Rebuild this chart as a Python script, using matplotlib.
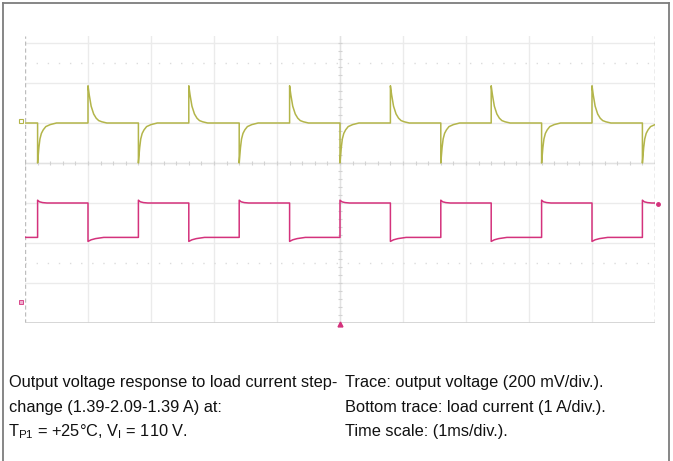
import matplotlib
matplotlib.use("Agg")
import numpy as np
import matplotlib.pyplot as plt
from matplotlib.lines import Line2D

plt.rcParams['font.family'] = ['Liberation Sans', 'DejaVu Sans']
plt.rcParams['mathtext.fontset'] = 'custom'
plt.rcParams['mathtext.rm'] = 'Liberation Sans'

# scope screen: 10 div wide (1 ms/div), 8 div high, top of the screen is cropped
t_start, t_end = 0.0, 10.0
y_top = 7.175

# load current step edges (ms)
rise_times = [0.2, 1.8, 3.4, 5.0, 6.6, 8.2, 9.8]
fall_times = [1.0, 2.6, 4.2, 5.8, 7.4, 9.0]

# output voltage trace (div): baseline and transient shapes
v_base = 5.0
dip_dt = [0.0, 0.02, 0.037, 0.06, 0.09, 0.13, 0.20, 0.30]
dip_dv = [-1.0, -0.62, -0.40, -0.26, -0.17, -0.09, -0.04, 0.0]
peak_dt = [0.0, 0.02, 0.05, 0.09, 0.13, 0.17, 0.22, 0.30]
peak_dv = [0.93, 0.70, 0.42, 0.225, 0.12, 0.06, 0.03, 0.0]

# load current trace (div)
i_low = 2.14
i_high = 3.0
rise_dt = [0.0, 0.03, 0.08, 0.15]
rise_lvl = [3.07, 3.03, 3.01, 3.0]
fall_dt = [0.0, 0.05, 0.12, 0.25]
fall_lvl = [2.04, 2.08, 2.11, 2.14]

caption_left = ['Output voltage response to load current step-',
                'change (1.39-2.09-1.39 A) at:',
                r'T$_{\mathregular{P1}}$ = +25°C, V$_{\mathregular{I}}$ = 110 V.']
caption_right = ['Trace: output voltage (200 mV/div.).',
                 'Bottom trace: load current (1 A/div.).',
                 'Time scale: (1ms/div.).']

yellow = '#b3b54a'
magenta = '#d4327c'

# build the two traces from the edges and shapes
events = sorted([(t, 'rise') for t in rise_times] + [(t, 'fall') for t in fall_times])
vt, vy = [t_start], [v_base]
it, iy = [t_start], [i_low]
for t, kind in events:
    vt.append(t)
    vy.append(v_base)
    if kind == 'rise':
        it.append(t)
        iy.append(i_low)
        for dt, dv in zip(dip_dt, dip_dv):
            vt.append(t + dt)
            vy.append(v_base + dv)
        for dt, lv in zip(rise_dt, rise_lvl):
            it.append(t + dt)
            iy.append(lv)
    else:
        it.append(t)
        iy.append(i_high)
        for dt, dv in zip(peak_dt, peak_dv):
            vt.append(t + dt)
            vy.append(v_base + dv)
        for dt, lv in zip(fall_dt, fall_lvl):
            it.append(t + dt)
            iy.append(lv)
vt.append(t_end + 0.5)
vy.append(v_base)
it.append(t_end)
iy.append(i_high)

fig = plt.figure(figsize=(6.73, 4.61), dpi=100)
ax = fig.add_axes([25 / 673, 1 - 323 / 461, 630 / 673, 287 / 461])
ax.set_xlim(t_start, t_end)
ax.set_ylim(0, y_top)
ax.set_axis_off()

# graticule
grid_c = '#ebebeb'
for x in range(1, 10):
    ax.axvline(x, color=grid_c, lw=1.0, zorder=1)
for y in range(1, 8):
    ax.axhline(y, color=grid_c, lw=1.0, zorder=1)
for y in (1.5, 6.5):
    ax.axhline(y, color='#dcdcdc', lw=1.0, ls=(0, (1, 7)), zorder=1)
ax.axvline(0, color='#bdbdbd', lw=1.0, ls=(0, (3, 2)), zorder=2)
ax.axvline(10, color='#a0a0a0', lw=1.0, ls=(0, (3, 2)), zorder=2)
ax.axhline(0, color='#d0d0d0', lw=1.2, zorder=2)
# centre axes with minor ticks
ax.axvline(5, color='#e2e2e2', lw=1.0, zorder=1)
ax.axhline(4, color='#e2e2e2', lw=1.0, zorder=1)
ax.vlines(np.arange(0, 10.01, 0.2), 4 - 0.05, 4 + 0.05, color='#d2d2d2', lw=0.8, zorder=1)
ax.hlines(np.arange(0, y_top, 0.2), 5 - 0.032, 5 + 0.032, color='#d2d2d2', lw=0.8, zorder=1)

# traces
ax.plot(vt, vy, color=yellow, lw=1.1, zorder=4)
ax.plot(it, iy, color=magenta, lw=1.1, zorder=4)
ax.plot(t_end + 0.045, i_high - 0.03, 'o', color=magenta, ms=2.5, clip_on=False, zorder=5)

# channel / trigger markers
ax.plot(-0.07, v_base + 0.06, marker='s', ms=3.5, mfc='none', mec=yellow, mew=0.8, clip_on=False)
ax.plot(-0.06, 0.52, marker='s', ms=3.5, mfc='#f0b0d0', mec=magenta, mew=0.6, clip_on=False)
ax.plot(5, -0.03, marker='^', ms=3.5, color=magenta, clip_on=False, zorder=5)

# caption
for k, (left, right) in enumerate(zip(caption_left, caption_right)):
    yy = 1 - (382.7 + 24.5 * k) / 461
    x_left = 9 if k < 2 else 7.5
    fig.text(x_left / 673, yy, left, fontsize=11.8, va='center', color='#111111')
    fig.text(345 / 673, yy, right, fontsize=11.8, va='center', color='#111111')

# outer frame
frame_c = '#7d7d7d'
fig.add_artist(Line2D([3 / 673, 3 / 673], [0, 1 - 3 / 461], transform=fig.transFigure, color=frame_c, lw=1.3))
fig.add_artist(Line2D([3 / 673, 669 / 673], [1 - 3 / 461, 1 - 3 / 461], transform=fig.transFigure, color=frame_c, lw=1.3))
fig.add_artist(Line2D([669 / 673, 669 / 673], [0, 1 - 3 / 461], transform=fig.transFigure, color=frame_c, lw=1.3))

fig.savefig('out.png', dpi=100, facecolor='white')
